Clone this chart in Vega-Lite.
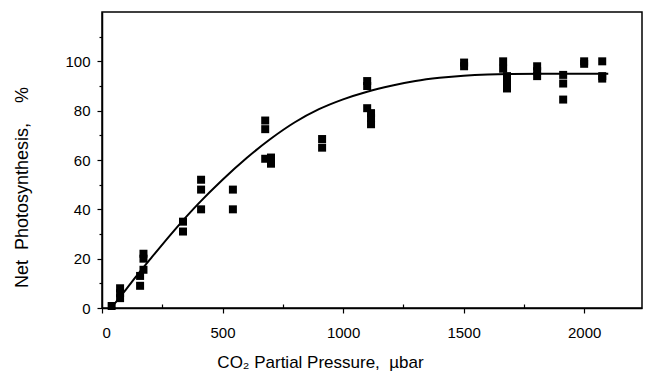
{
  "$schema": "https://vega.github.io/schema/vega-lite/v6.json",
  "width": 540,
  "height": 296,
  "autosize": "none",
  "padding": {"left": 102, "top": 12, "right": 3, "bottom": 66},
  "background": "white",
  "config": {
    "view": {"stroke": "black", "strokeWidth": 1.5},
    "font": "Liberation Sans",
    "axis": {
      "domainColor": "black", "domainWidth": 1.5, "tickColor": "black", "tickWidth": 1.2,
      "labelColor": "black", "titleColor": "black", "labelFont": "Liberation Sans",
      "titleFont": "Liberation Sans", "labelFontSize": 15, "titleFontSize": 17,
      "titleFontWeight": "normal", "grid": false
    }
  },
  "datasets": {
    "points": [
      {"co2": 40, "ps": 0.8},
      {"co2": 75, "ps": 8}, {"co2": 75, "ps": 6}, {"co2": 75, "ps": 4},
      {"co2": 158, "ps": 13}, {"co2": 158, "ps": 9},
      {"co2": 172, "ps": 22}, {"co2": 172, "ps": 20}, {"co2": 172, "ps": 15.5},
      {"co2": 336, "ps": 35}, {"co2": 336, "ps": 31},
      {"co2": 411, "ps": 52}, {"co2": 411, "ps": 48}, {"co2": 411, "ps": 40},
      {"co2": 543, "ps": 48}, {"co2": 543, "ps": 40},
      {"co2": 677, "ps": 76}, {"co2": 677, "ps": 72.5}, {"co2": 677, "ps": 60.5},
      {"co2": 701, "ps": 61}, {"co2": 701, "ps": 58.5},
      {"co2": 913, "ps": 68.5}, {"co2": 913, "ps": 65},
      {"co2": 1100, "ps": 92}, {"co2": 1100, "ps": 90}, {"co2": 1100, "ps": 81},
      {"co2": 1116, "ps": 79}, {"co2": 1116, "ps": 77}, {"co2": 1116, "ps": 74.5},
      {"co2": 1502, "ps": 99.5}, {"co2": 1502, "ps": 98},
      {"co2": 1664, "ps": 100}, {"co2": 1664, "ps": 97},
      {"co2": 1680, "ps": 94}, {"co2": 1680, "ps": 91.5}, {"co2": 1680, "ps": 89},
      {"co2": 1805, "ps": 98}, {"co2": 1805, "ps": 96}, {"co2": 1805, "ps": 94},
      {"co2": 1913, "ps": 94.5}, {"co2": 1913, "ps": 91}, {"co2": 1913, "ps": 84.5},
      {"co2": 2000, "ps": 100}, {"co2": 2000, "ps": 99},
      {"co2": 2075, "ps": 100}, {"co2": 2075, "ps": 94}, {"co2": 2075, "ps": 93}
    ],
    "curve": [
      {"co2": 38, "ps": 0}, {"co2": 100, "ps": 7.6}, {"co2": 150, "ps": 13.8},
      {"co2": 200, "ps": 19.8}, {"co2": 300, "ps": 31.5}, {"co2": 400, "ps": 42.3},
      {"co2": 500, "ps": 52}, {"co2": 600, "ps": 60.8}, {"co2": 700, "ps": 68.6},
      {"co2": 800, "ps": 75.3}, {"co2": 900, "ps": 80.6}, {"co2": 1000, "ps": 84.6},
      {"co2": 1100, "ps": 87.7}, {"co2": 1200, "ps": 90.1}, {"co2": 1300, "ps": 92},
      {"co2": 1400, "ps": 93.3}, {"co2": 1500, "ps": 94.2}, {"co2": 1600, "ps": 94.7},
      {"co2": 1700, "ps": 94.9}, {"co2": 1900, "ps": 95}, {"co2": 2100, "ps": 95}
    ]
  },
  "encoding": {
    "x": {
      "field": "co2", "type": "quantitative",
      "scale": {"domain": [0, 2240], "nice": false, "zero": false},
      "axis": {
        "title": "CO₂ Partial Pressure,\u00a0\u00a0µbar",
        "values": [0, 250, 500, 750, 1000, 1250, 1500, 1750, 2000],
        "labelExpr": "datum.value % 500 === 0 ? datum.label : ''",
        "format": "d",
        "tickSize": {"condition": {"test": "datum.value % 500 === 0", "value": 5}, "value": -4},
        "labelPadding": 12,
        "titleX": 218, "titleY": 59, "titleAnchor": "middle", "titleBaseline": "alphabetic"
      }
    },
    "y": {
      "field": "ps", "type": "quantitative",
      "scale": {"domain": [0, 120], "nice": false},
      "axis": {
        "title": "Net\u00a0\u00a0Photosynthesis,\u00a0\u00a0\u00a0\u00a0%",
        "titleFontSize": 18,
        "values": [0, 10, 20, 30, 40, 50, 60, 70, 80, 90, 100, 110],
        "labelExpr": "datum.value % 20 === 0 && datum.value <= 100 ? datum.label : ''",
        "tickSize": {"condition": {"test": "datum.value % 20 === 0", "value": 5}, "value": 3},
        "labelPadding": 7,
        "titleX": -80, "titleY": 175, "titleAngle": -90, "titleBaseline": "middle", "titleAnchor": "middle"
      }
    }
  },
  "layer": [
    {
      "data": {"name": "curve"},
      "mark": {"type": "line", "color": "black", "strokeWidth": 2, "interpolate": "monotone"}
    },
    {
      "data": {"name": "points"},
      "mark": {"type": "point", "shape": "square", "filled": true, "color": "black", "opacity": 1, "size": 64}
    }
  ]
}
